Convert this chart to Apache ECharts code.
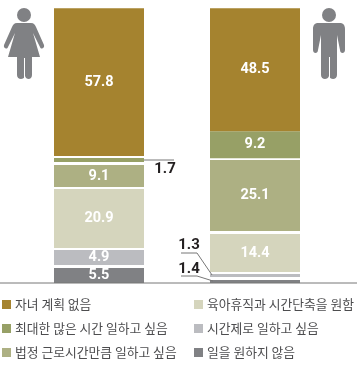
<!DOCTYPE html>
<html>
<head>
<meta charset="utf-8">
<style>
  html, body { margin: 0; padding: 0; background: #fff; }
  #chart { width: 357px; height: 365px; }
</style>
<script src="https://cdn.jsdelivr.net/npm/echarts@6/dist/echarts.min.js"></script>
</head>
<body>
<div id="chart"></div>
<script>
const categories = ["여성", "남성"];
const names = [
  "일을 원하지 않음",
  "시간제로 일하고 싶음",
  "육아휴직과 시간단축을 원함",
  "법정 근로시간만큼 일하고 싶음",
  "최대한 많은 시간 일하고 싶음",
  "자녀 계획 없음",
];
// printed numbers, bottom to top
const womenLabels = ["5.5", "4.9", "20.9", "9.1", "1.7", "57.8"];
const menLabels = ["1.4", "1.3", "14.4", "25.1", "9.2", "48.5"];
// the original graphic is not drawn to scale, so heights are read off the bars
const womenHeights = [5.45, 5.45, 21.5, 8, 1.45, 53.75];
const menHeights = [1.1, 1.1, 13.8, 25.8, 9.8, 44.7];
// white space above each segment
const womenGaps = [1.1, 0.7, 0.7, 1.1, 0.7, 0];
const menGaps = [1.1, 0.7, 1.1, 0.7, 0, 0];
const colors = ["#808184", "#bbbcc0", "#d5d5bd", "#adb083", "#97a066", "#a5832f"];

// values that sit outside the bar, next to a leader line
const outerLabels = { "1.7": [66, 9], "1.3": [-66, -30], "1.4": [-66, -12] };

function pointLabel(text) {
  const offset = outerLabels[text];
  return offset ? { offset, color: "#231f20", fontSize: 15 } : {};
}

const series = [];
names.forEach((name, i) => {
  series.push({
    name,
    type: "bar",
    stack: "total",
    barWidth: 90,
    itemStyle: { color: colors[i] },
    label: {
      show: true,
      position: "inside",
      color: "#fff",
      fontFamily: "Roboto",
      fontWeight: "bold",
      fontSize: 14.5,
      formatter: (p) => (p.dataIndex === 0 ? womenLabels[i] : menLabels[i]),
    },
    data: [
      { value: womenHeights[i], label: pointLabel(womenLabels[i]) },
      { value: menHeights[i], label: pointLabel(menLabels[i]) },
    ],
  });
  series.push({
    name: "gap" + i,
    type: "bar",
    stack: "total",
    barWidth: 90,
    silent: true,
    itemStyle: { color: "transparent" },
    data: [womenGaps[i], menGaps[i]],
  });
});

const legendBase = {
  orient: "vertical",
  top: 297,
  icon: "rect",
  itemWidth: 9,
  itemHeight: 9,
  itemGap: 9,
  selectedMode: false,
  textStyle: {
    color: "#4d4d4f",
    fontFamily: "Noto Sans CJK KR",
    fontSize: 12.8,
    lineHeight: 15,
    padding: [0, 0, 0, -1],
  },
  padding: 0,
};

const iconColor = "#808184";
const lineColor = "#777";

echarts.graphic.registerShape("womanBody", echarts.graphic.extendPath(
  "M17 23 H31 C34 23 35 25 36 27 L44 45 C45 48 41 50 40 47 L33 33 L40 57 H32 V75 C32 80 26 80 25 76 C24 80 17 80 17 75 V57 H8 L15 33 L8 47 C7 50 3 48 4 45 L12 27 C13 25 14 23 17 23 Z"
));
echarts.graphic.registerShape("manBody", echarts.graphic.extendPath(
  "M318 23 H340 C343 23 345 25 345 29 V50 C345 54 340 54 340 50 L337 35 V75 C337 80 330 80 329 76 C328 80 321 80 321 75 V35 L318 50 C318 54 313 54 313 50 V29 C313 25 315 23 318 23 Z"
));

const chart = echarts.init(document.getElementById("chart"));
chart.setOption({
  animation: false,
  grid: { left: 21, right: 24, top: 8, bottom: 82 },
  xAxis: {
    type: "category",
    data: categories,
    axisLine: { show: false },
    axisTick: { show: false },
    axisLabel: { show: false },
  },
  yAxis: { type: "value", min: 0, max: 100, show: false },
  legend: [
    Object.assign({}, legendBase, { left: 2, data: [names[5], names[4], names[3]] }),
    Object.assign({}, legendBase, { left: 194, data: [names[2], names[1], names[0]] }),
  ],
  series,
  graphic: [
    // baseline
    { type: "line", shape: { x1: 0, y1: 283, x2: 357, y2: 283 }, style: { stroke: lineColor, lineWidth: 1 }, z: 10 },
    // leader lines
    { type: "polyline", shape: { points: [[144, 160], [174, 160]] }, style: { stroke: lineColor, fill: null, lineWidth: 1 }, z: 10 },
    { type: "polyline", shape: { points: [[181, 253], [197, 253], [212, 275]] }, style: { stroke: lineColor, fill: null, lineWidth: 1 }, z: 10 },
    { type: "polyline", shape: { points: [[181, 276], [197, 276], [213, 281]] }, style: { stroke: lineColor, fill: null, lineWidth: 1 }, z: 10 },
    // woman
    { type: "circle", shape: { cx: 24, cy: 15, r: 7 }, style: { fill: iconColor } },
    { type: "womanBody", style: { fill: iconColor } },
    { type: "line", shape: { x1: 24.5, y1: 58, x2: 24.5, y2: 78 }, style: { stroke: "#fff", lineWidth: 1 } },
    // man
    { type: "circle", shape: { cx: 329, cy: 15, r: 7 }, style: { fill: iconColor } },
    { type: "manBody", style: { fill: iconColor } },
    { type: "line", shape: { x1: 329.5, y1: 57, x2: 329.5, y2: 78 }, style: { stroke: "#fff", lineWidth: 1 } },
  ],
});
</script>
</body>
</html>
